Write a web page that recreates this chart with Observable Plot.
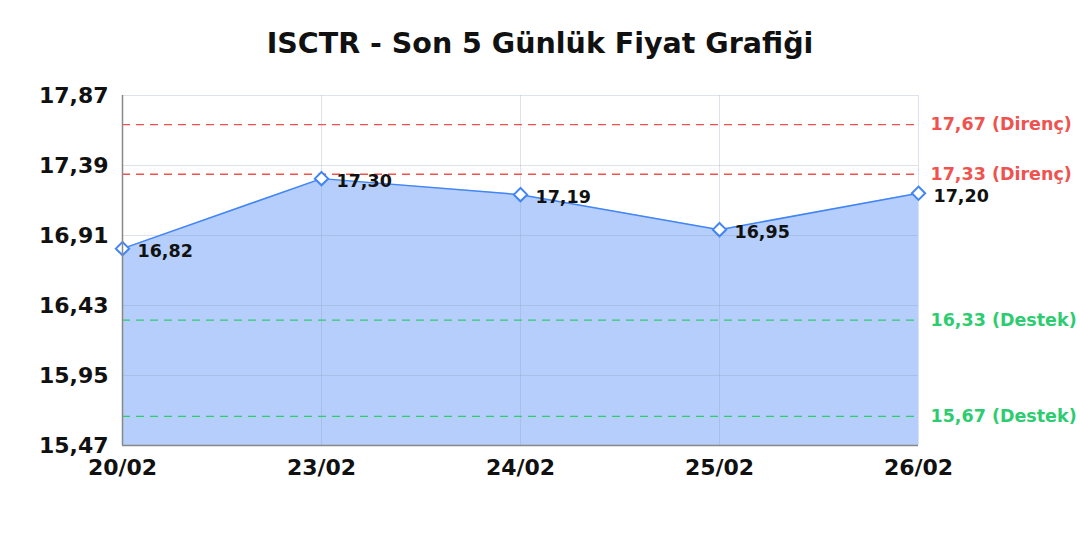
<!DOCTYPE html>
<html>
<head>
<meta charset="utf-8">
<script src="https://cdn.jsdelivr.net/npm/d3@7"></script>
<script src="https://cdn.jsdelivr.net/npm/@observablehq/plot@0.6"></script>
<style>
  body { margin: 0; background: white; font-family: "DejaVu Sans", sans-serif; }
  #title { height: 36px; line-height: 36px; padding-top: 26px; margin-bottom: 8px; text-align: center; font-weight: bold; font-size: 28.5px; color: #111; }
  svg { overflow: visible; }
</style>
</head>
<body>
<div id="title">ISCTR - Son 5 Günlük Fiyat Grafiği</div>
<div id="chart"></div>
<script>
const dates = ["20/02", "23/02", "24/02", "25/02", "26/02"];
const prices = [16.82, 17.30, 17.19, 16.95, 17.20];
const yTicks = [15.47, 15.95, 16.43, 16.91, 17.39, 17.87];
const resistance = [17.67, 17.33];
const support = [16.33, 15.67];

const data = dates.map((d, i) => ({date: d, price: prices[i]}));
const fmt = v => v.toFixed(2).replace(".", ",");
const levels = [
  ...resistance.map(v => ({v, label: `${fmt(v)} (Direnç)`, color: "#ef5350"})),
  ...support.map(v => ({v, label: `${fmt(v)} (Destek)`, color: "#2ecc71"}))
];

const plot = Plot.plot({
  width: 1080,
  height: 470,
  marginLeft: 122,
  marginRight: 162,
  marginTop: 25,
  marginBottom: 95,
  style: {fontFamily: "DejaVu Sans, sans-serif", overflow: "visible"},
  x: {type: "point", domain: dates, label: null, padding: 0},
  y: {domain: [15.47, 17.87], label: null},
  marks: [
    Plot.areaY(data, {x: "date", y1: 15.47, y2: "price", fill: "#a8c6fa", fillOpacity: 0.85}),
    Plot.gridY(yTicks, {stroke: "#8a9ab8", strokeOpacity: 0.28, strokeWidth: 1}),
    Plot.gridX(dates, {stroke: "#8a9ab8", strokeOpacity: 0.28, strokeWidth: 1}),
    Plot.ruleY(levels, {y: "v", stroke: "color", strokeDasharray: "8,6", strokeWidth: 1.3}),
    Plot.text(levels, {x: () => dates[dates.length - 1], y: "v", text: "label", fill: "color", textAnchor: "start", dx: 12, fontSize: 17.5, fontWeight: "bold"}),
    Plot.line(data, {x: "date", y: "price", stroke: "#4285f4", strokeWidth: 1.5}),
    Plot.dot(data, {x: "date", y: "price", symbol: "diamond2", r: 6, stroke: "#4285f4", fill: "white", strokeWidth: 2}),
    Plot.text(data, {x: "date", y: "price", text: d => fmt(d.price), textAnchor: "start", dx: 15, dy: 3, fontSize: 17.5, fontWeight: "bold", fill: "#111"}),
    Plot.axisY(yTicks, {tickFormat: fmt, tickSize: 0, tickPadding: 14, fontSize: 22, fontWeight: "bold", fill: "#111"}),
    Plot.axisX(dates, {tickSize: 0, tickPadding: 14, fontSize: 22, fontWeight: "bold", fill: "#111"}),
    Plot.ruleX([dates[0]], {stroke: "#888", strokeWidth: 1.5}),
    Plot.ruleY([15.47], {stroke: "#888", strokeWidth: 1.5})
  ]
});
document.getElementById("chart").appendChild(plot);
</script>
</body>
</html>
